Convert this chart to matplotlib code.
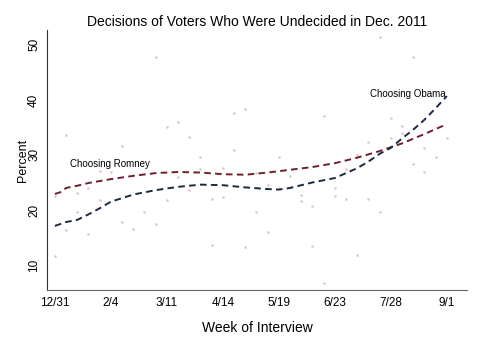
import matplotlib.pyplot as plt

plt.rcParams['font.family'] = ['Liberation Sans', 'DejaVu Sans']

# --- Data (x in weeks since 12/31/2011) ---
tick_weeks = [0, 5, 10, 15, 20, 25, 30, 35]
tick_labels = ['12/31', '2/4', '3/11', '4/14', '5/19', '6/23', '7/28', '9/1']

# raw weekly poll values (faint dots)
dot_weeks = [0, 0, 1, 1, 2, 2, 3, 3, 4, 4, 5, 6, 6, 7, 8, 9, 9,
             10, 10, 11, 11, 12, 12, 13, 13, 14, 14, 15, 15, 16, 16,
             17, 17, 18, 18, 19, 19, 20, 20, 21, 21, 22, 22, 23, 23,
             24, 24, 25, 25, 26, 26, 27, 27, 28, 28, 29, 29, 30, 30,
             31, 31, 32, 32, 33, 33, 34, 35]
dot_values = [22.5, 11.7, 33.6, 16.4, 23.1, 19.7, 24.0, 15.6, 27.1, 21.8,
              26.9, 31.6, 17.8, 16.5, 19.6, 47.8, 17.5,
              35.1, 21.8, 36.0, 26.0, 33.3, 23.6, 29.6, 27.5, 22.0, 13.7,
              27.6, 22.4, 37.6, 30.9, 38.4, 13.3, 26.7, 19.6, 24.5, 16.0,
              29.6, 24.0, 26.2, 24.2, 22.7, 21.6, 20.7, 13.5, 37.1, 6.7,
              24.0, 22.5, 27.5, 22.0, 30.0, 11.8, 32.4, 22.0, 51.5, 19.6,
              36.7, 33.1, 35.3, 34.0, 47.8, 28.4, 31.3, 26.9, 29.6, 33.1]

# smoothed trends
romney_weeks = [0, 0.6, 1, 2, 3, 5, 7, 9, 11, 13, 15, 17, 19, 21, 23,
                25, 27, 29, 31, 33, 35]
romney_vals = [22.9, 23.3, 24.0, 24.4, 24.9, 25.6, 26.2, 26.7, 26.9, 26.8,
               26.5, 26.4, 26.8, 27.3, 27.8, 28.5, 29.5, 30.7, 32.1, 33.8, 35.6]

obama_weeks = [0, 1, 2, 3, 4, 5, 7, 9, 11, 13, 15, 17, 19, 20, 21, 23,
               25, 27, 28, 29, 30, 31, 32, 33, 34, 35]
obama_vals = [17.1, 17.8, 18.2, 19.2, 20.3, 21.5, 22.8, 23.6, 24.2, 24.6,
              24.5, 24.1, 23.8, 23.7, 24.0, 25.0, 25.8, 27.6, 28.8, 30.2,
              31.3, 33.0, 34.6, 36.4, 38.5, 40.7]

fig = plt.figure(figsize=(4.8, 3.49), dpi=100)
ax = fig.add_axes([0.098, 0.169, 0.875, 0.745])

ax.scatter(dot_weeks, dot_values, s=3.5, color='#e4c2c9', linewidths=0, zorder=1)
ax.plot(romney_weeks, romney_vals, color='#6e1f2c', lw=1.4,
        dashes=(3.4, 2.2), zorder=2)
ax.plot(obama_weeks, obama_vals, color='#1b2a3e', lw=1.4,
        dashes=(3.4, 2.2), zorder=3)

ax.text(4.9, 28.4, 'Choosing Romney', fontsize=7, ha='center', va='center')
ax.text(31.5, 41.1, 'Choosing Obama', fontsize=7, ha='center', va='center')

ax.set_xlim(-0.7, 36.8)
ax.set_ylim(5.45, 52.7)
ax.set_xticks(tick_weeks)
ax.set_xticklabels(tick_labels)
ax.set_yticks([10, 20, 30, 40, 50])
ax.tick_params(axis='both', length=0, labelsize=8.5)
ax.tick_params(axis='x', pad=5)
ax.tick_params(axis='y', pad=5)
for lbl in ax.get_yticklabels():
    lbl.set_rotation(90)
    lbl.set_va('center')

for s in ['top', 'right']:
    ax.spines[s].set_visible(False)
ax.spines['left'].set_color('#333333')
ax.spines['bottom'].set_color('#666666')

ax.set_title('Decisions of Voters Who Were Undecided in Dec. 2011',
             fontsize=10, pad=3)
ax.set_ylabel('Percent', fontsize=9, labelpad=-1)
ax.set_xlabel('Week of Interview', fontsize=10, labelpad=9)

fig.savefig('out.png', dpi=100)
